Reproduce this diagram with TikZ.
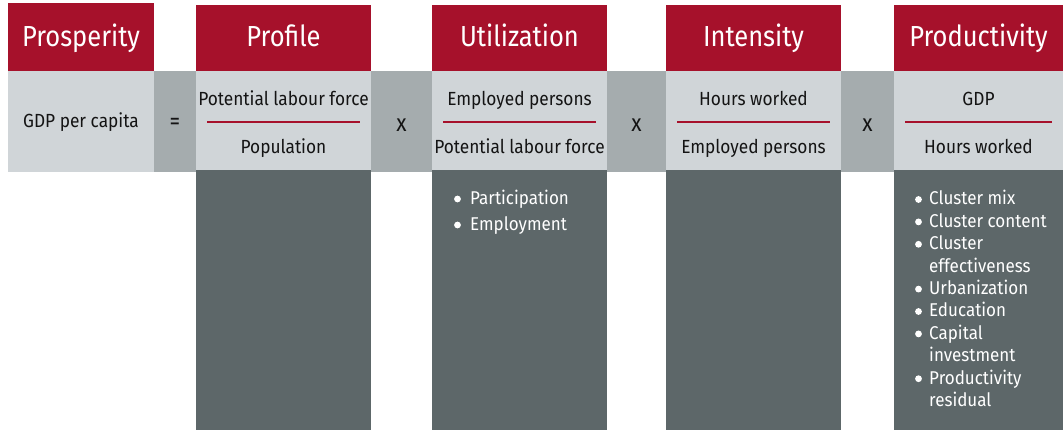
\documentclass[tikz,border=0pt]{standalone}
\usepackage{fontspec}
\setmainfont{Fira Sans}[FakeStretch=0.88]
\newfontfamily\bodyfont{Fira Sans}[FakeStretch=0.91]
\newfontfamily\listfont{Fira Sans}[FakeStretch=0.92]
\definecolor{hdrred}{RGB}{166,17,43}
\definecolor{lightgrey}{RGB}{208,213,216}
\definecolor{midgrey}{RGB}{165,172,174}
\definecolor{darkgrey}{RGB}{93,103,105}
\definecolor{txt}{RGB}{20,20,20}
\begin{document}
\begin{tikzpicture}[x=1pt,y=-1pt,
  panel/.style={inner sep=0pt, outer sep=0pt, anchor=north west, draw=none},
  hdrtext/.style={anchor=base, text=white, inner sep=0pt, font=\fontsize{29}{29}\selectfont},
  bodytext/.style={anchor=base, text=txt, inner sep=0pt, font=\bodyfont\fontsize{19}{19}\selectfont},
  optext/.style={anchor=center, text=txt, inner sep=0pt, font=\fontsize{24}{24}\selectfont},
  listtext/.style={anchor=base west, text=white, inner sep=0pt, font=\listfont\fontsize{18.5}{18.5}\selectfont},
  dot/.style={circle, fill=white, inner sep=0pt, minimum size=6.8pt},
  divider/.style={draw=hdrred, line width=2pt}]
\fill[white] (0,0) rectangle (1063,430);
\useasboundingbox (0,0) rectangle (1063,430);
% Prosperity
\node[panel, fill=hdrred, minimum width=146pt, minimum height=68pt] (hP) at (8,3) {};
\node[panel, fill=lightgrey, minimum width=146pt, minimum height=101pt] (lP) at (8,71) {};
\node[panel, fill=midgrey, minimum width=42pt, minimum height=101pt] (op0) at (154,71) {};
% Profile
\node[panel, fill=hdrred, minimum width=175pt, minimum height=66pt] (hPr) at (196,5) {};
\node[panel, fill=lightgrey, minimum width=175pt, minimum height=99pt] (lPr) at (196,71) {};
\node[panel, fill=darkgrey, minimum width=175pt, minimum height=260pt] (dPr) at (196,170) {};
\node[panel, fill=midgrey, minimum width=61pt, minimum height=101pt] (op1) at (371,71) {};
% Utilization
\node[panel, fill=hdrred, minimum width=175pt, minimum height=66pt] (hU) at (432,5) {};
\node[panel, fill=lightgrey, minimum width=175pt, minimum height=99pt] (lU) at (432,71) {};
\node[panel, fill=darkgrey, minimum width=175pt, minimum height=260pt] (dU) at (432,170) {};
\node[panel, fill=midgrey, minimum width=59pt, minimum height=101pt] (op2) at (607,71) {};
% Intensity
\node[panel, fill=hdrred, minimum width=175pt, minimum height=66pt] (hI) at (666,5) {};
\node[panel, fill=lightgrey, minimum width=175pt, minimum height=99pt] (lI) at (666,71) {};
\node[panel, fill=darkgrey, minimum width=175pt, minimum height=260pt] (dI) at (666,170) {};
\node[panel, fill=midgrey, minimum width=53pt, minimum height=101pt] (op3) at (841,71) {};
% Productivity
\node[panel, fill=hdrred, minimum width=169pt, minimum height=66pt] (hPd) at (894,5) {};
\node[panel, fill=lightgrey, minimum width=169pt, minimum height=99pt] (lPd) at (894,71) {};
\node[panel, fill=darkgrey, minimum width=169pt, minimum height=260pt] (dPd) at (894,170) {};
% header texts
\node[hdrtext] (tP) at (81,47) {Prosperity};
\node[hdrtext] (tPr) at (283.5,47) {Profile};
\node[hdrtext] (tU) at (519.5,47) {Utilization};
\node[hdrtext] (tI) at (753.5,47) {Intensity};
\node[hdrtext] (tPd) at (978.5,47) {Productivity};
% row texts
\node[bodytext] (gdp) at (81,128) {GDP per capita};
\node[optext] (eq) at (175,124) {=};
\node[bodytext] (nPr) at (283.5,106) {Potential labour force};
\node[bodytext] (dnPr) at (283.5,154) {Population};
\node[optext] (x1) at (401.5,125) {x};
\node[bodytext] (nU) at (519.5,106) {Employed persons};
\node[bodytext] (dnU) at (519.5,154) {Potential labour force};
\node[optext] (x2) at (636.5,125) {x};
\node[bodytext] (nI) at (753.5,106) {Hours worked};
\node[bodytext] (dnI) at (753.5,154) {Employed persons};
\node[optext] (x3) at (867.5,125) {x};
\node[bodytext] (nPd) at (978.5,106) {GDP};
\node[bodytext] (dnPd) at (978.5,154) {Hours worked};
% dividers
\foreach \n in {lPr,lU,lI,lPd}
  \draw[divider] ([xshift=11pt,yshift=-1.5pt]\n.west) -- ([xshift=-11pt,yshift=-1.5pt]\n.east);
% Utilization list
\foreach \t [count=\i] in {Participation, Employment} {
  \node[listtext] (ul\i) at (470,{205+(\i-1)*26}) {\t};
  \node[dot] (ub\i) at (457.5,{205+(\i-1)*26-6}) {};
}
% Productivity list
\foreach \t/\b [count=\i] in {Cluster mix/1, Cluster content/1, Cluster/1, effectiveness/0, Urbanization/1, Education/1, Capital/1, investment/0, Productivity/1, residual/0} {
  \node[listtext] (pl\i) at (929,{205+(\i-1)*22.4}) {\t};
  \ifnum\b=1 \node[dot] (pb\i) at (918.5,{205+(\i-1)*22.4-5.5}) {}; \fi
}
\end{tikzpicture}
\end{document}
